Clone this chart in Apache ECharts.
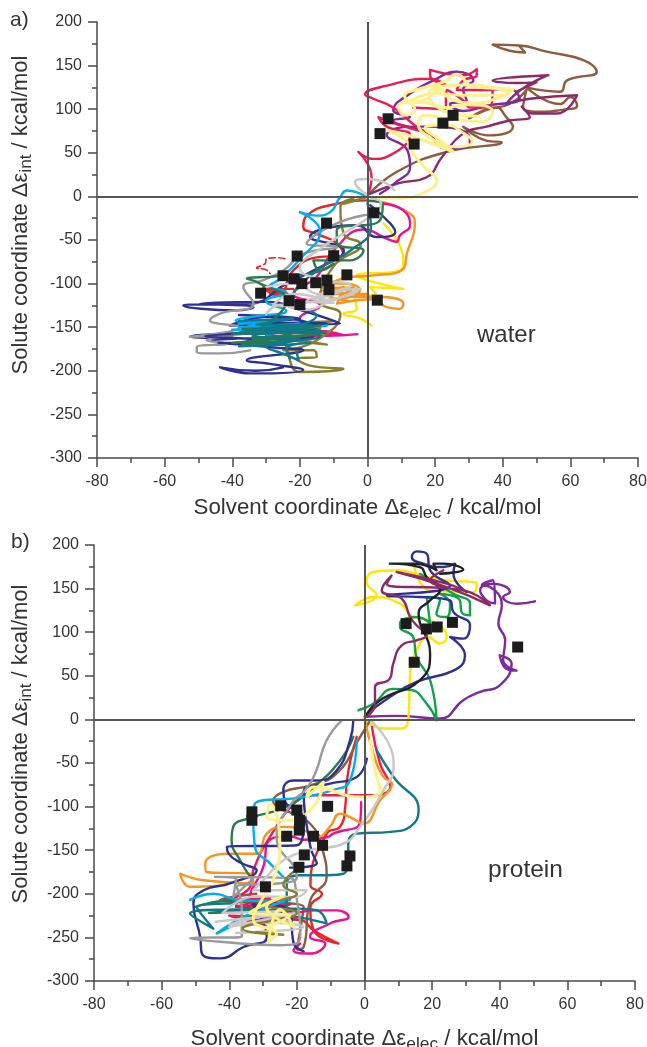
<!DOCTYPE html>
<html><head><meta charset="utf-8">
<style>html,body{margin:0;padding:0;background:#fff}#c{width:647px;height:1047px}</style>
<script src="https://cdn.jsdelivr.net/npm/echarts@6/dist/echarts.min.js"></script>
</head><body><div id="c"></div>
<script>
// ---------- panel a (water) trajectories: [solvent, solute] kcal/mol ----------
const aBrown=[[0,1],[8.6,28],[23.4,51],[39.7,62],[35.2,64],[28.3,80],[36,70],[43,80],[41,91],[38,102],[30,89],[35,99],[42,106],[47,122],[46,102],[52,97],[57,99],[62,104],[60,114],[57,106],[47,125],[57,120],[59,133],[67.8,143],[64,156],[53,166],[45,173],[37,174],[42,167],[46.6,165],[45,172]];
const aMaroon=[[0.7,3],[9,15],[17.5,22],[22,45],[28.3,72],[35.2,80],[42,87],[48,91],[45.6,103],[49,95],[56,95],[62,116],[48,112],[41,106],[45.6,123],[53.5,139],[37,133],[44,130],[50,131],[44,120]];
const aPurple=[[3.7,3],[8,15],[12.6,34],[11.8,53],[5.7,70],[13.5,80],[18.5,80],[30,70],[30.3,60],[23.4,55],[20.5,60],[18.5,72],[7.6,87],[12.6,91],[7.6,99],[12.6,118],[19.5,133],[26.4,143],[31.3,133],[28.3,123],[29.3,110],[24.4,106],[28.3,98],[35.2,104],[45,112],[42,123],[33,122]];
const aCrimson=[[0.2,3],[1.2,22],[-2.7,51],[1.7,43],[6.6,47],[12.6,70],[5.7,80],[3.2,91],[8.6,83],[18.5,72],[14.5,80],[7.6,102],[1.7,112],[-0.7,117],[5.7,127],[18.5,135],[23.4,127],[18.5,139],[18.5,145],[28.3,139],[32.3,146],[32.3,139],[28.3,133],[26.4,122],[37,122],[36.2,102],[30.3,102],[28.3,110],[23.4,122],[23,100],[13.5,102]];
const aPale=[[0.7,-1],[9.6,-2],[17.5,6],[20.5,18],[17,33],[13.5,49],[12,62],[5.7,76],[13,69],[25.4,51],[21,66],[17,78],[23,82],[29,71],[31,63],[26,57],[19,66],[15,84],[17,93],[24,89],[34,86],[37,97],[30,105],[23,102],[16,108],[9,104],[11,93],[14,100],[11,115],[16,124],[22.4,131],[26.4,140],[31,126],[37,124],[43,122],[38,112],[31,107],[24,113],[21.4,123],[17,111],[12,108],[20,118],[29,116],[42,118],[30,128],[18,117],[24,96],[33,92]];
const aSilver=[[8,7],[3.7,18],[-0.3,20],[-3.7,16.5],[0,1],[4,-8],[1,-22],[-6,-40],[-14,-60],[-20,-82],[-14,-95],[-5,-102],[-10,-112],[-16,-118],[-8,-108],[-2,-106],[-12,-122],[-18,-130],[-26,-125],[-30,-135]];
const aSilver2=[[-30,-104],[-22,-100],[-14,-112],[-6,-105],[-18,-120],[-10,-122],[-22,-112],[-28,-125],[-14,-120],[-4,-112]];
const aRed=[[-0.2,-4.6],[-9.1,-8.4],[-18,-22],[-19,-35],[-15,-43],[-9,-54],[-7,-67.6],[-15,-70],[-22,-85],[-25.9,-110],[-30.8,-104],[-21.9,-113.5],[-28.8,-111.6],[-24,-116],[-30,-108],[-22,-106]];
const aRedDash=[[-24.4,-71.5],[-26.9,-70.3],[-29.8,-71.5],[-30.3,-77],[-32.8,-82],[-30,-84],[-28.8,-88.7]];
const aCyan=[[-0.2,-0.8],[-6.1,6.8],[-8.1,-0.8],[-11,-18],[-15,-22],[-20,-18],[-14,-40],[-20,-72],[-26,-95],[-29,-103],[-24,-110],[-30,-120],[-24,-131],[-34,-138],[-39,-142],[-28,-148],[-38,-150],[-20,-150],[-30,-158],[-12,-148]];
const aCyan2=[[-38,-146],[-28,-142],[-36,-150],[-20,-146],[-34,-155],[-24,-152],[-40,-153]];
const aOrange=[[4.7,-6.5],[12.6,-20],[14,-31],[11.6,-66],[10.6,-83],[1.7,-90.6],[-5.2,-92.5],[-11,-100],[-6.1,-100],[-2.2,-108],[-5.2,-115],[2.7,-115],[10.6,-123],[9.6,-129],[5.7,-127],[2,-118],[-9,-123],[-7,-104],[-13,-108],[-4,-105],[-8,-115]];
const aOrange2=[[-12,-104],[-3,-108],[-10,-112],[0,-112],[-9,-118],[-4,-104],[-14,-110],[-6,-120]];
const aYellow=[[4.7,-31],[10.6,-73.4],[9.6,-85],[-3.2,-90.6],[1.7,-98],[10.6,-106],[0.8,-104],[2.7,-113.5],[-4.2,-113.5],[-3.2,-128.8],[-7.1,-134.5],[-2.2,-140],[1.2,-148]];
const aMagenta=[[4.7,-8.4],[10.6,-16],[12.6,-33],[9.6,-44.7],[8.6,-52],[5.7,-48.5],[-1,-38],[-10,-62],[-15,-92],[-22,-112],[-14,-125],[-20,-140],[-15,-153.6],[-7.1,-159],[-12,-155],[-20,-152],[-30,-160],[-12,-160],[-3,-158]];
const aNavy=[[0.8,-10],[6.7,-31],[8.2,-41],[2.7,-46.6],[-3.2,-33],[-17,-46.6],[-7,-62],[-16,-85],[-24,-100],[-34.7,-123],[-54.5,-125],[-52.5,-127.6],[-38.7,-130.7],[-33.7,-127],[-49.5,-123],[-30,-121],[-20,-130],[-8.1,-146],[-40.7,-148],[-28.8,-138],[-15,-150],[-52.5,-161],[-38.7,-163],[-46,-165],[-28.8,-173],[-19,-176.5],[-35.7,-188],[-28.8,-192],[-19,-199],[-34.7,-203],[-43.6,-196],[-33,-200],[-25,-196]];
const aNavy2=[[-38,-136],[-20,-140],[-32,-144],[-12,-146],[-36,-152],[-18,-150],[-42,-158],[-22,-156],[-48,-160],[-30,-163],[-16,-162],[-36,-166],[-24,-170],[-44,-168],[-30,-168]];
const aOlive=[[-0.2,-0.8],[-7,-8.4],[-4.2,-2.7],[-8,-12],[-7,-43],[-2,-55],[-10,-80],[-14,-120],[-8,-135],[-15,-165],[-24.9,-176.5],[-16,-176.5],[-15,-184],[-20.9,-186],[-17,-194],[-7.1,-198],[-20,-201.4],[-26,-165],[-34,-162]];
const aOlive2=[[-28,-146],[-10,-143],[-24,-151],[-14,-151],[-30,-158],[-12,-170],[-24,-162]];
const aGreen=[[0,-5],[4.5,-9],[3.7,-27.5],[-9.1,-39],[-9,-54],[-1.2,-62],[-5.2,-73.4],[-16,-73.4],[-14,-85],[-10,-77],[-17,-88.7],[-28,-92],[-35.7,-94.4],[-32.8,-98],[-24,-120],[-32.8,-153.6],[-14,-148],[-40,-158],[-20,-155],[-37,-170],[-22,-165]];
const aGreen2=[[-37,-152],[-16,-150],[-30,-156],[-12,-157],[-34,-163],[-18,-160],[-40,-168],[-24,-166]];
const aTeal=[[0,-8],[1,-35],[-5,-62],[-15,-85],[-22,-118],[-15,-136.4],[-38.7,-157],[-26,-150],[-14,-160],[-30,-172],[-23.9,-182],[-20.4,-188],[-21,-178]];
const aTeal2=[[-38,-143],[-22,-140],[-33,-147],[-16,-148],[-30,-155],[-14,-154],[-34,-160],[-20,-164],[-38,-172],[-24,-170],[-17,-168],[-24,-175],[-23,-186]];
const aGray=[[1.7,-20],[-9.1,-31],[-18,-54],[-9,-58],[-19,-66],[-24.9,-85],[-30.8,-96],[-36.7,-104],[-33.7,-123],[-43.6,-134.5],[-46.6,-142],[-38,-150],[-52.5,-161],[-40,-160],[-47.6,-165],[-41.6,-169],[-50.5,-173],[-50.5,-178.4],[-43.6,-180],[-34.7,-176.5]];
const aSquares=[[6.1,89],[3.7,72],[13.8,60],[22.3,84],[25.3,93],[1.9,-18.8],[-12.1,-30.6],[-20.8,-68.4],[-10,-68],[-25,-91],[-21.7,-94.4],[-19.4,-100],[-15.3,-99],[-12,-96],[-11.4,-107],[-6.1,-90],[-31.6,-111],[-23.2,-119.6],[-20,-124],[2.9,-119]];

// ---------- panel b (protein) trajectories ----------
const bPurple=[[0,3],[9.5,4],[22.3,1],[29.2,22],[34.2,31.5],[40,39],[43.5,64],[40,73.5],[42,58],[45,56],[41,68],[41.6,91],[39.6,110],[40.6,131],[37,152],[34.7,154],[38,159.5],[38.6,133],[36.1,136.5],[34.2,148],[38,155.6],[43,146],[41,140.4],[45,132.7],[50.4,135.4]];
const bGreen=[[-1.8,10.5],[2.6,18],[8.5,35],[13.5,34],[18.4,18],[21.3,-1],[19.4,45],[15.4,71.6],[14.4,94.5],[10.5,106],[10.5,110],[15.4,117.4],[19.4,110],[18.4,140.4],[22.3,136.5],[21.3,121],[24.3,117.4],[25.3,132.7],[22.3,144],[28.2,136.5],[28.7,123],[31.2,119.3],[31.2,132.7],[26.3,144],[16.4,167]];
const bYellow=[[-0.3,1],[5.6,-10.5],[11,-10.5],[13,2.8],[13.5,52],[15.4,79.2],[18.9,94.5],[22.3,87],[24.3,94.5],[19.4,113.6],[14.5,117.4],[10.5,132.7],[2.6,140.4],[-2.8,130.8],[3.6,142.3],[0.6,157.5],[2.6,169],[9.5,171],[18.4,163.3],[24.3,159.5],[33.2,155.6],[32.2,146],[19.4,148],[14.5,178.6]];
const bNavyTop=[[0.2,4.7],[7.5,25.8],[15.4,43],[27.3,58],[29.7,73.5],[25.3,94.5],[29.2,92.6],[31.2,108],[26.3,123],[25.3,136.5],[16.4,140.4],[6.6,142],[25.3,153.7],[19.4,171],[18.4,190],[15.4,192.7],[14,186],[17.4,178.6],[23.3,174.7],[26.8,178.6],[26.3,167],[30.2,146]];
const bBlack=[[0.2,3],[4.6,22],[16.4,45],[19.4,75.4],[16,121.3],[19.4,136.5],[22.3,148],[18.4,163],[16.4,174.7],[7.5,178.6],[14.5,178.6],[21.3,171],[20.4,178.6],[23.3,178.6],[29.2,171.7],[22.3,167]];
const bMaroon=[[0.7,3],[3.1,18],[3.1,37],[7.5,46.8],[8.5,64],[11,85],[15.4,90.7],[18.4,96.4],[15.4,108],[13.5,117.4],[11,138.4],[5.1,148],[8,165],[6.6,155.6],[29.2,148],[37.1,130.8],[24.3,151.8],[9.5,169],[24.3,155.6],[29.2,148],[19.4,159.5],[23.3,171]];
const bMaroon2=[[-42,-208],[-30,-206],[-24,-214],[-38,-214],[-28,-222],[-22,-230]];
const bGray=[[-6.7,-1],[-11.2,-24],[-14.6,-62],[-18,-83],[-21,-93],[-26,-135],[-20,-180.6],[-23,-187],[-37.8,-192],[-36.3,-215],[-36.3,-249.4],[-51.6,-251],[-42.7,-255],[-25,-259],[-19,-249.4],[-20,-207],[-22,-182],[-44.2,-180.6],[-38,-183],[-38.8,-203.6],[-33,-183]];
const bSilver=[[1.7,-1],[7.6,-31.7],[8.6,-54.6],[5.6,-81.3],[-1.3,-123],[-6.2,-142.4],[-16.1,-150],[-24,-161.5],[-29,-180.6],[-32.9,-196],[-28,-196],[-17.1,-196],[-20,-203.5],[-32,-203],[-42,-222],[-25,-220],[-40,-235],[-22,-232]];
const bSilver2=[[-44,-232],[-30,-226],[-20,-222],[-40,-238],[-28,-233],[-18,-238],[-38,-245],[-24,-242]];
const bTeal=[[3.6,-35.5],[8.6,-66],[16,-104],[13.5,-123],[7.6,-129],[-2.3,-131],[-4.8,-142.4],[-4.8,-154],[-6.2,-177],[-11.2,-178.7],[-19,-178.7],[-23,-188],[-23,-215],[-14,-219],[-11.2,-234],[-22,-225],[-37,-218],[-51.6,-222.7],[-44.7,-240],[-49.6,-215],[-37.8,-211]];
const bNavy=[[-3.3,-1],[-4.3,-24],[-8.2,-58.4],[-14.1,-70],[-21,-70],[-24,-81.3],[-23.5,-94],[-18,-115],[-20,-144.4],[-40.7,-146],[-40.2,-154],[-36.3,-165],[-31.9,-173],[-39.8,-188],[-47.6,-196],[-50.6,-211],[-48.6,-249.4],[-48.1,-268.5],[-42.7,-274],[-35.8,-261],[-28.9,-249.4],[-33,-212],[-22,-218],[-21,-256],[-18,-266]];
const bNavyB=[[0.7,-45],[-2.3,-66],[-10.2,-73.7],[-18,-83],[-16,-146],[-14.1,-165],[-22,-170]];
const bOrange=[[0.2,-1],[2.6,-39],[5.6,-66],[8.1,-73.7],[4.6,-92.8],[-0.3,-119.5],[-4.3,-112],[-7.2,-108],[-10.2,-123],[-14.1,-135],[-18,-127],[-24,-123.3],[-28.9,-131],[-31.9,-154],[-40.7,-154],[-47.1,-165.4],[-46.7,-175],[-33.8,-177],[-32.9,-188],[-47.6,-184.5],[-54.5,-177],[-51.6,-192],[-40.7,-190]];
const bPale=[[1.7,-24],[3.1,-58.4],[4.6,-81],[-1.3,-89],[-15.1,-77.5],[-17,-89],[-12.2,-71.8],[-15.1,-100],[-23,-115.7],[-28.9,-112],[-28,-96.6],[-25,-142.4],[-27,-184.5],[-29.9,-203.6],[-32.9,-230],[-26,-245.6],[-28.4,-255],[-25,-218],[-21,-238],[-29,-215],[-24,-203],[-34,-222],[-22,-225],[-30,-240]];
const bCrimson=[[2.2,-8.7],[4.6,-50.8],[7.6,-77.5],[1.7,-87],[-8.2,-87],[-16.1,-87],[-20,-93],[-28,-135],[-32.9,-173],[-33.8,-192],[-42,-208],[-28,-205],[-38,-215],[-22,-212],[-36,-230],[-20,-228],[-40,-225],[-28,-238]];
const bMagenta=[[-1,-95],[-1.3,-118],[-9.2,-131],[-11,-135],[-18,-138],[-22,-134],[-28,-138],[-30,-170],[-34,-205],[-22,-222],[-14.1,-219],[-8.2,-219],[-4.7,-226.5],[-10.2,-234],[-16.1,-249.4],[-11.6,-257],[-16.1,-268.5],[-21,-264.7],[-19,-257]];
const bRed=[[-2.3,-20],[-5.2,-70],[-5.7,-100.4],[-7.2,-123],[-11.2,-131],[-16,-190],[-12.6,-200],[-16,-215],[-15,-242],[-7.7,-257],[-15,-242],[-19,-230],[-30,-228]];
const bBrown=[[1.7,-1],[-1.3,-20],[-8.2,-62],[-16,-75.6],[-24,-83],[-27,-93],[-16,-120],[-12.1,-154],[-11.2,-180.6],[-16,-207],[-18,-261],[-20,-264],[-18,-215],[-42.7,-207],[-32,-200]];
const bForest=[[-3.3,-20],[-7.2,-47],[-15,-77.5],[-23,-100],[-34.8,-114],[-38.8,-123],[-39.3,-138.6],[-36.8,-161.5],[-33.8,-180.6]];
const bForest2=[[-50,-215],[-40,-208],[-28,-212],[-46,-222],[-34,-220],[-20,-218],[-38,-228]];
const bCyan=[[-2.3,-24],[-4.3,-70],[-9.2,-81],[-20,-90],[-31.9,-94.7],[-32.9,-112],[-32.4,-146],[-27.9,-165.4],[-24,-180.6]];
const bCyan2=[[-51.6,-207],[-44.7,-200],[-36,-208],[-22,-207],[-35,-225],[-43.7,-245.6],[-39.8,-238]];
const bOlive=[[-20,-172],[-24,-190],[-20,-200],[-30,-212],[-20,-222],[-36,-240],[-24,-247],[-32,-244]];
const bSquares=[[12.3,109.8],[18.3,103.7],[21.5,106],[26,111.3],[45.3,83],[14.7,65.5],[-33.3,-106],[-33.3,-115.7],[-24.8,-99],[-20,-104],[-19.2,-115.7],[-19.3,-127],[-23,-134],[-15.1,-134],[-12.4,-144.4],[-10.9,-99.7],[-17.8,-155.4],[-19.4,-169.6],[-29.3,-192],[-4.3,-156.6],[-5.2,-168]];

// ---------- axes and text ----------
const xRange=[-80,80], xStep=20, yRange=[-300,200], yStep=50;
const xTitle='{a|Solvent coordinate Δε}{s|elec}{a| / kcal/mol}';
const yTitle='{a|Solute coordinate Δε}{s|int}{a| / kcal/mol}';
const panelLabels=['a)','b)'], envLabels=['water','protein'];

const C={brown:'#8f5b3d',maroon:'#8c2a68',purple:'#7f2a9c',crimson:'#ea1a55',pale:'#fff08c',silver:'#c8c8c8',red:'#ea2326',cyan:'#00aeef',orange:'#f7941d',yellow:'#ffe600',magenta:'#ec1090',navy:'#2e3192',olive:'#8b7d2b',green:'#12a150',teal:'#0f7a8a',gray:'#999999',black:'#222222',forest:'#2a7a4f'};
const aLines=[[aBrown,C.brown],[aMaroon,C.maroon],[aPurple,C.purple],[aCrimson,C.crimson],[aPale,C.pale,null,3],[aYellow,C.yellow],[aOrange,C.orange],[aOrange2,C.orange],[aMagenta,C.magenta],[aRed,C.red],[aOlive,C.olive],[aOlive2,C.olive],[aNavy,C.navy],[aGray,C.gray],[aNavy2,C.navy],[aCyan,C.cyan],[aCyan2,C.cyan],[aGreen,C.forest],[aGreen2,C.forest],[aTeal,C.teal],[aTeal2,C.teal],[aSilver,C.silver],[aSilver2,C.silver],[aRedDash,C.red,'dashed',1.6]];
const bLines=[[bPurple,C.purple],[bYellow,C.yellow],[bGreen,C.green],[bNavyTop,C.navy],[bBlack,C.black],[bMaroon,C.maroon],[bRed,C.red],[bBrown,C.brown],[bMaroon2,C.maroon],[bMagenta,C.magenta],[bCrimson,C.crimson],[bOrange,C.orange],[bForest,C.forest],[bForest2,C.forest],[bNavy,C.navy],[bNavyB,C.navy],[bCyan,C.cyan],[bCyan2,C.cyan],[bTeal,C.teal],[bGray,C.gray],[bSilver,C.silver],[bSilver2,C.silver],[bOlive,C.olive],[bPale,C.pale,null,3]];

const axisColor='#4a4a4a', textColor='#333';
const richOf=(fs)=>({a:{fontSize:fs,color:textColor,fontFamily:'Liberation Sans',verticalAlign:'middle'},s:{fontSize:fs*0.78,color:textColor,fontFamily:'Liberation Sans',verticalAlign:'bottom',padding:[fs*0.5,0,0,0]}});
const common={type:'value',axisLine:{onZero:false,lineStyle:{color:axisColor,width:1.5}},axisTick:{length:9,lineStyle:{color:axisColor,width:1.5}},
  minorTick:{show:true,splitNumber:2,length:5,lineStyle:{color:axisColor,width:1.5}},splitLine:{show:false},minorSplitLine:{show:false}};
const label=(m)=>({fontSize:16,color:textColor,fontFamily:'Liberation Sans',margin:m,showMinLabel:true,showMaxLabel:true,hideOverlap:false});
function xAxis(i,gap){return {...common,axisLabel:label(16),gridIndex:i,min:xRange[0],max:xRange[1],interval:xStep,position:'bottom',
  name:xTitle,nameLocation:'middle',nameGap:gap,nameTextStyle:{rich:richOf(22.3)}};}
function yAxis(i,gap,shift){return {...common,axisLabel:label(15),gridIndex:i,min:yRange[0],max:yRange[1],interval:yStep,position:'left',
  name:yTitle,nameLocation:'middle',nameGap:gap,nameRotate:90,nameTextStyle:{rich:richOf(22),padding:[0,0,0,shift]}};}
function lineSeries(list,i){return list.map(([d,c,t,w])=>({type:'line',xAxisIndex:i,yAxisIndex:i,data:d,smooth:0.5,symbol:'none',silent:true,animation:false,clip:false,z:3,
  lineStyle:{color:c,width:w||2.4,type:t||'solid',cap:'round',join:'round'}}));}
function zeroSeries(i){return {type:'line',xAxisIndex:i,yAxisIndex:i,data:[],symbol:'none',silent:true,animation:false,z:2,
  markLine:{silent:true,symbol:'none',animation:false,label:{show:false},lineStyle:{color:'#555',width:2,type:'solid'},data:[{xAxis:0},{yAxis:0}]}};}
function squareSeries(d,i){return {type:'scatter',xAxisIndex:i,yAxisIndex:i,data:d,symbol:'rect',symbolSize:11,silent:true,animation:false,z:5,itemStyle:{color:'#1c1c1c',opacity:1}};}

const chart=echarts.init(document.getElementById('c'),null,{renderer:'canvas'});
chart.setOption({animation:false,backgroundColor:'#fff',
  grid:[{left:97,top:22,width:541,height:436,outerBoundsMode:'none'},{left:94,top:545,width:541,height:436,outerBoundsMode:'none'}],
  xAxis:[xAxis(0,36),xAxis(1,44)],yAxis:[yAxis(0,62,50),yAxis(1,59,38)],
  series:[zeroSeries(0),zeroSeries(1),...lineSeries(aLines,0),...lineSeries(bLines,1),squareSeries(aSquares,0),squareSeries(bSquares,1)],
  graphic:[
   {type:'text',left:10,top:10,style:{text:panelLabels[0],font:'21px "Liberation Sans"',fill:textColor}},
   {type:'text',left:11,top:532,style:{text:panelLabels[1],font:'21px "Liberation Sans"',fill:textColor}},
   {type:'text',left:477,top:323,style:{text:envLabels[0],font:'24px "Liberation Sans"',fill:textColor}},
   {type:'text',left:488,top:858,style:{text:envLabels[1],font:'24.5px "Liberation Sans"',fill:textColor}}
  ]});
</script></body></html>
